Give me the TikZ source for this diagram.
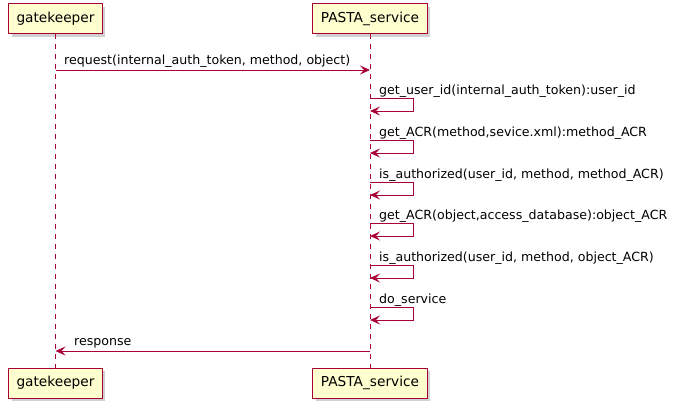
\documentclass[tikz,border=0pt]{standalone}
\usepackage{fontspec}
\setmainfont{DejaVu Sans}
\usepackage{tikz}
\usetikzlibrary{arrows.meta,positioning,shadows}
\definecolor{umlred}{HTML}{A80036}
\definecolor{umlfill}{HTML}{FEFECE}

\begin{document}
\begin{tikzpicture}[x=1pt, y=-1pt,
    actor/.style={draw=umlred, fill=umlfill, line width=1pt, minimum height=30pt, inner xsep=8pt,
      font=\fontsize{13.7}{16}\selectfont,
      drop shadow={shadow xshift=3pt, shadow yshift=-3pt, fill=black!45, opacity=0.4}},
    lifeline/.style={draw=umlred, line width=1pt, dash pattern=on 5pt off 5pt},
    msg/.style={draw=umlred, line width=1pt, -{Stealth[length=10pt, width=9pt, inset=4pt]}},
    msglabel/.style={anchor=base west, inner sep=0pt, font=\fontsize{12.6}{15}\selectfont}]

        \useasboundingbox (0,0) rectangle (684,408);

        \node[actor] (gkTop) at (55.5,18.5) {gatekeeper};
        \node[actor] (psTop) at (370,18.5) {PASTA\_service};
        \node[actor] (gkBot) at (55.5,383) {gatekeeper};
        \node[actor] (psBot) at (370,383) {PASTA\_service};
        \draw[lifeline] (gkTop) -- (gkBot);
        \draw[lifeline] (psTop) -- (psBot);

        \coordinate (gkReq) at (gkTop |- 0,70);
        \coordinate (psReq) at (psTop |- 0,70);
        \draw[msg] (gkReq) -- (psReq);
        \node[msglabel] (reqLabel) at (64,64) {request(internal\_auth\_token, method, object)};

        \coordinate (uidOut) at (psTop |- 0,98);
        \coordinate (uidIn) at (psTop |- 0,111);
        \draw[msg] (uidOut) -- ++(43,0) -- ++(0,13) -- (uidIn);
        \node[msglabel] (uidLabel) at (379,94) {get\_user\_id(internal\_auth\_token):user\_id};

        \coordinate (macrOut) at (psTop |- 0,140);
        \coordinate (macrIn) at (psTop |- 0,153);
        \draw[msg] (macrOut) -- ++(43,0) -- ++(0,13) -- (macrIn);
        \node[msglabel] (macrLabel) at (379,136) {get\_ACR(method,sevice.xml):method\_ACR};

        \coordinate (mauthOut) at (psTop |- 0,182);
        \coordinate (mauthIn) at (psTop |- 0,195);
        \draw[msg] (mauthOut) -- ++(43,0) -- ++(0,13) -- (mauthIn);
        \node[msglabel] (mauthLabel) at (379,178) {is\_authorized(user\_id, method, method\_ACR)};

        \coordinate (oacrOut) at (psTop |- 0,223);
        \coordinate (oacrIn) at (psTop |- 0,236);
        \draw[msg] (oacrOut) -- ++(43,0) -- ++(0,13) -- (oacrIn);
        \node[msglabel] (oacrLabel) at (379,219) {get\_ACR(object,access\_database):object\_ACR};

        \coordinate (oauthOut) at (psTop |- 0,265);
        \coordinate (oauthIn) at (psTop |- 0,278);
        \draw[msg] (oauthOut) -- ++(43,0) -- ++(0,13) -- (oauthIn);
        \node[msglabel] (oauthLabel) at (379,261) {is\_authorized(user\_id, method, object\_ACR)};

        \coordinate (doOut) at (psTop |- 0,307);
        \coordinate (doIn) at (psTop |- 0,320);
        \draw[msg] (doOut) -- ++(43,0) -- ++(0,13) -- (doIn);
        \node[msglabel] (doLabel) at (379,303) {do\_service};

        \coordinate (psResp) at (psTop |- 0,351);
        \coordinate (gkResp) at (gkTop |- 0,351);
        \draw[msg] (psResp) -- (gkResp);
        \node[msglabel] (respLabel) at (74,345.5) {response};
\end{tikzpicture}
\end{document}
